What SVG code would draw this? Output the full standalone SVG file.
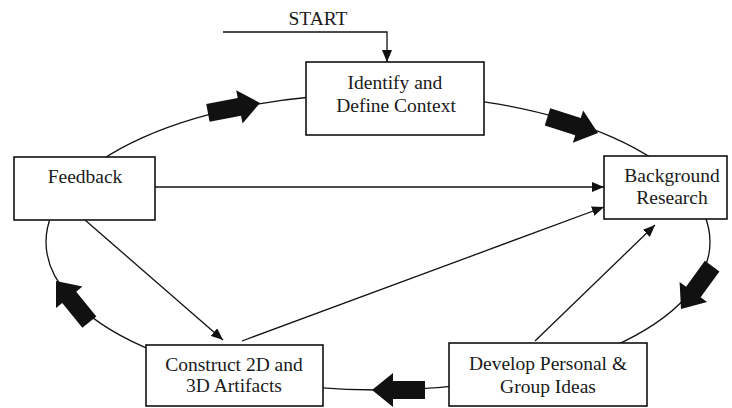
<svg xmlns="http://www.w3.org/2000/svg" width="732" height="408" viewBox="0 0 732 408">
<style>
.box{fill:#fff;stroke:#111;stroke-width:1.6}
.t{font-family:"Liberation Serif","Times New Roman",serif;font-size:19.5px;fill:#1a1a1a;text-anchor:middle}
.ln{fill:none;stroke:#111;stroke-width:1.3}
.blk{fill:#111}
</style>
<defs>
<marker id="ah" viewBox="0 0 12 10" refX="12" refY="5" markerWidth="12" markerHeight="10" markerUnits="userSpaceOnUse" orient="auto">
<path d="M0,0 L12,5 L0,10 Z" fill="#111"/>
</marker>
<polygon id="fat" points="0,0 -21,-17 -21,-9 -53,-9 -53,9 -21,9 -21,17"/>
</defs>
<g id="cycle">
<ellipse class="ln" cx="378" cy="242" rx="332" ry="148"/>
<use href="#fat" class="blk" transform="translate(260,103) rotate(-10.7)"/>
<use href="#fat" class="blk" transform="translate(598,133) rotate(17.7)"/>
<use href="#fat" class="blk" transform="translate(681,309) rotate(126)"/>
<use href="#fat" class="blk" transform="translate(372,390) rotate(180)"/>
<use href="#fat" class="blk" transform="translate(56,281) rotate(-129)"/>
</g>
<g id="connectors">
<path class="ln" d="M223,32 L387,32 L387,62" marker-end="url(#ah)"/>
<line class="ln" x1="155" y1="187" x2="604" y2="187" marker-end="url(#ah)"/>
<line class="ln" x1="242" y1="341" x2="604" y2="207" marker-end="url(#ah)"/>
<line class="ln" x1="85" y1="220" x2="223" y2="340" marker-end="url(#ah)"/>
<line class="ln" x1="535" y1="341" x2="655" y2="225" marker-end="url(#ah)"/>
</g>
<text class="t" x="318" y="25">START</text>
<g id="identify">
<rect class="box" x="306" y="62" width="178" height="73"/>
<text class="t" x="395" y="89">Identify and</text>
<text class="t" x="396" y="112">Define Context</text>
</g>
<g id="feedback">
<rect class="box" x="14" y="157" width="141" height="63"/>
<text class="t" x="85" y="183">Feedback</text>
</g>
<g id="background">
<rect class="box" x="604" y="156" width="123" height="63"/>
<text class="t" x="672" y="182">Background</text>
<text class="t" x="672" y="204">Research</text>
</g>
<g id="construct">
<rect class="box" x="146" y="345" width="177" height="61"/>
<text class="t" x="234" y="371">Construct 2D and</text>
<text class="t" x="234" y="392">3D Artifacts</text>
</g>
<g id="develop">
<rect class="box" x="449" y="343" width="198" height="63"/>
<text class="t" x="548" y="370">Develop Personal &amp;</text>
<text class="t" x="548" y="393">Group Ideas</text>
</g>
</svg>
